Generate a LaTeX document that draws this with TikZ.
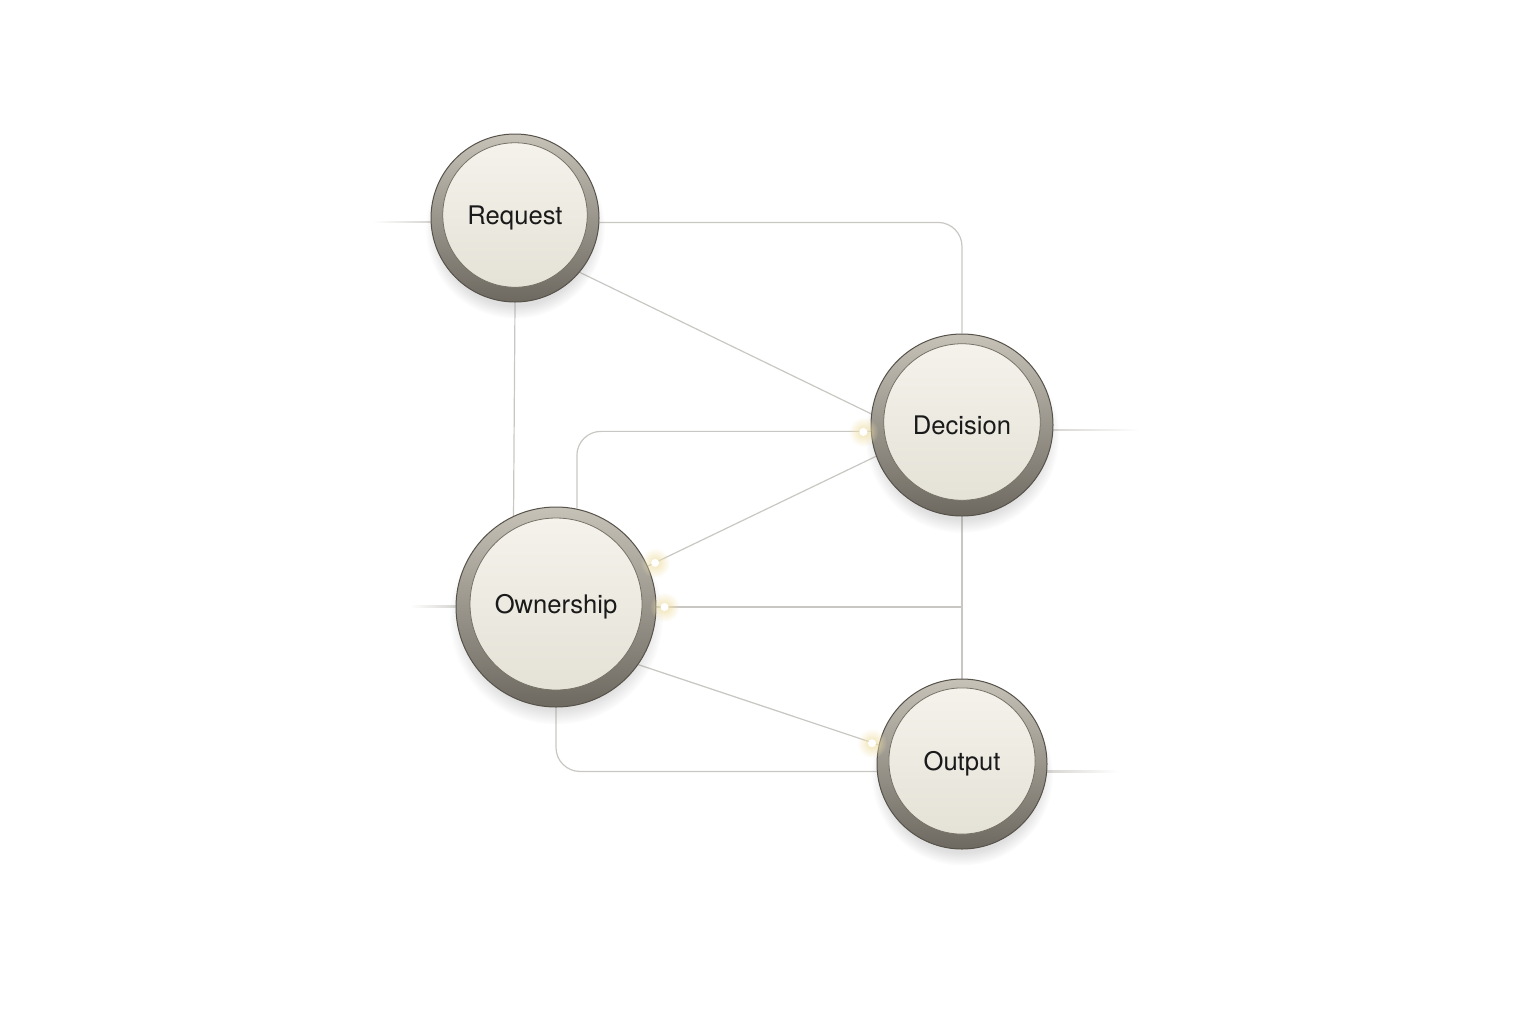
\documentclass[tikz,border=0pt]{standalone}
\usepackage{fontspec}
\setmainfont{TeX Gyre Heros}
\usetikzlibrary{calc,shadows,fadings,backgrounds}
\definecolor{ringtop}{RGB}{198,194,184}
\definecolor{ringbot}{RGB}{110,105,96}
\definecolor{ringedge}{RGB}{86,82,74}
\definecolor{facetop}{RGB}{245,243,236}
\definecolor{facebot}{RGB}{227,224,213}
\definecolor{faceedge}{RGB}{118,114,104}
\definecolor{wirec}{RGB}{200,199,195}
\definecolor{stubc}{RGB}{214,213,209}
\definecolor{glowc}{RGB}{240,224,170}
\definecolor{inkc}{RGB}{26,26,26}
\tikzfading[name=glowfade, inner color=transparent!0, outer color=transparent!100]

\begin{document}
\begin{tikzpicture}[x=0.5pt, y=-0.5pt,
    knob/.style={circle, minimum size=#1, inner sep=0pt, draw=ringedge, line width=0.5pt,
      top color=ringtop, bottom color=ringbot, text=inkc,
      font=\fontsize{12.8}{15}\selectfont,
      circular drop shadow={shadow xshift=0pt, shadow yshift=-5pt, shadow scale=1.07, opacity=0.25},
      path picture={\shadedraw[top color=facetop, bottom color=facebot, draw=faceedge, line width=0.4pt]
        ([yshift=1.5pt]path picture bounding box.center) circle [radius=0.43*#1];}},
    wire/.style={draw=wirec, line width=0.6pt, rounded corners=12pt},
    stubin/.style={left color=white, right color=stubc},
    stubout/.style={left color=stubc, right color=white}]
    \useasboundingbox (0,0) rectangle (1536,1024);

    % Knobs
    \node[knob=84pt] (request) at (515,218) {Request};
    \node[knob=91pt] (decision) at (962,425) {Decision};
    \node[knob=100pt] (ownership) at (556,607) {Ownership};
    \node[knob=85pt] (output) at (962,764) {Output};

    % Loose ends
    \coordinate (reqin) at (372,222);
    \coordinate (ownin) at (410,606);
    \coordinate (decout) at (1140,430);
    \coordinate (outout) at (1118,772);

    \begin{scope}[on background layer]
        % Request links
        \draw[wire] (request.-3) -| (decision.north);
        \draw[wire] (request.-40) -- (decision.173);
        \draw[wire] (request.south) -- (ownership.115);

        % Ownership links
        \draw[wire] (ownership.78) |- (decision.184);
        \draw[wire] (ownership.24) -- (decision.200);
        \draw[wire] (ownership.east) -- (ownership.east -| decision.south);
        \draw[wire] (ownership.-35) -- (output.167);
        \draw[wire] (ownership.south) |- (output.185);

        % Decision to Output
        \draw[wire] (decision.south) -- (output.north);

        % Stubs
        \shade[stubin] ($(reqin)+(0,-0.5)$) rectangle ($(request.183)+(0,0.5)$);
        \shade[stubin] ($(ownin)+(0,-0.5)$) rectangle ($(ownership.west)+(0,0.5)$);
        \shade[stubout] ($(decision.-3)+(0,-0.5)$) rectangle ($(decout)+(0,0.5)$);
        \shade[stubout] ($(output.-5)+(0,-0.5)$) rectangle ($(outout)+(0,0.5)$);
    \end{scope}

    % Glows
    \foreach \n/\a in {decision/184, ownership/24, ownership/0, output/167}{
        \fill[glowc, path fading=glowfade, opacity=0.9] ($(\n.center)!1.08!(\n.\a)$) circle (15);
        \fill[white] ($(\n.center)!1.08!(\n.\a)$) circle (4);
    }
\end{tikzpicture}
\end{document}
